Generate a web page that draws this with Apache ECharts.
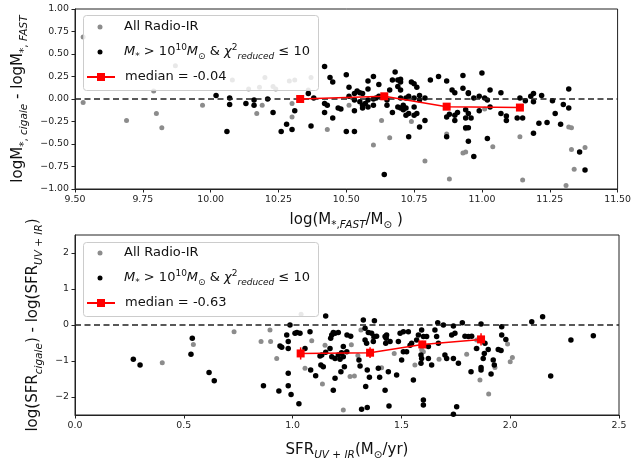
<!DOCTYPE html>
<html>
<head>
<meta charset="utf-8">
<script src="https://cdn.jsdelivr.net/npm/echarts@6.0.0/dist/echarts.min.js"></script>
<style>html,body{margin:0;padding:0;background:#fff}#c{width:634px;height:464px}</style>
</head>
<body>
<div id="c"></div>
<script>
// ---------- data ----------
const topXTicks = [9.5, 9.75, 10, 10.25, 10.5, 10.75, 11, 11.25, 11.5];
const topYTicks = [-1, -0.75, -0.5, -0.25, 0, 0.25, 0.5, 0.75, 1];
const botXTicks = [0, 0.5, 1, 1.5, 2, 2.5];
const botYTicks = [-2, -1, 0, 1, 2];

const topGrey = [[9.53,0.69],[9.53,-0.04],[9.69,-0.24],[9.80,-0.16],[9.82,-0.32],[9.79,0.09],[9.87,0.37],[9.97,-0.07],[10.08,0.21],[10.14,0.11],[10.18,0.13],[10.20,0.24],[10.23,0.14],[10.24,0.11],[10.19,-0.07],[10.17,-0.16],[10.30,-0.05],[10.30,-0.20],[10.29,0.20],[10.31,0.21],[10.37,0.24],[10.36,0.10],[10.43,-0.34],[10.51,-0.07],[10.63,-0.24],[10.66,-0.43],[10.60,-0.51],[10.74,-0.25],[10.79,-0.69],[10.87,-0.39],[10.88,-0.89],[10.94,-0.33],[10.93,-0.60],[10.94,-0.59],[11.04,-0.53],[11.14,-0.42],[11.15,-0.90],[11.32,-0.31],[11.33,-0.32],[11.33,-0.56],[11.38,-0.54],[11.34,-0.78],[11.31,-0.96],[11.01,-0.11]];

const topBlack = [[10.02,0.04],[10.07,0.01],[10.07,-0.06],[10.06,-0.36],[10.13,-0.05],[10.16,-0.01],[10.16,-0.07],[10.21,0.00],[10.23,-0.15],[10.26,-0.36],[10.28,-0.28],[10.30,-0.34],[10.31,-0.13],[10.37,-0.30],[10.36,0.06],[10.38,0.01],[10.42,0.36],[10.44,0.24],[10.45,0.19],[10.42,-0.05],[10.43,-0.07],[10.42,-0.15],[10.45,-0.21],[10.47,-0.10],[10.48,-0.11],[10.50,0.27],[10.50,-0.36],[10.51,0.13],
[10.51,0.03],[10.53,-0.01],[10.54,0.09],[10.55,0.07],[10.53,0.06],[10.56,0.06],[10.56,-0.07],[10.56,-0.10],[10.58,-0.01],[10.58,0.11],[10.58,0.20],[10.60,0.25],[10.60,0.00],[10.62,0.16],[10.53,-0.13],[10.53,-0.36],[10.55,-0.03],[10.57,-0.05],[10.58,-0.09],[10.60,-0.07],[10.61,0.01],[10.62,0.03],[10.64,-0.84],[10.65,-0.07],[10.65,-0.01],[10.66,0.10],[10.67,-0.15],[10.67,0.21],[10.68,0.30],[10.69,0.14],[10.69,0.21],[10.70,0.10],[10.70,0.22],[10.70,0.19],[10.69,-0.09],[10.70,-0.10],[10.71,-0.07],[10.71,-0.12],[10.70,0.01],[10.72,-0.18],[10.73,-0.16],[10.73,0.03],[10.73,-0.42],
[10.74,0.19],[10.75,0.17],[10.76,0.13],[10.72,0.01],[10.75,0.01],[10.77,0.04],[10.77,-0.01],[10.79,0.01],[10.72,-0.10],[10.75,-0.09],[10.76,-0.16],[10.75,-0.18],[10.77,-0.31],[10.79,-0.24],[10.81,0.21],[10.84,0.25],[10.87,0.20],[10.89,0.10],[10.90,0.07],[10.93,0.26],[10.93,0.12],[10.95,0.07],[10.95,0.06],[11.00,0.29],[11.03,0.10],[10.97,0.01],[10.99,0.03],[11.01,0.01],[11.02,-0.01],[11.07,0.07],[11.03,-0.09],[10.87,-0.20],[10.88,-0.17],[10.90,-0.18],[10.91,-0.15],[10.90,-0.24],[10.94,-0.12],[10.94,-0.21],[10.95,-0.16],[10.96,-0.21],[10.94,-0.32],[10.95,-0.32],[10.99,-0.13],[10.87,-0.42],[10.95,-0.47],[10.97,-0.64],[11.02,-0.44],[11.07,-0.16],[11.09,-0.19],[11.09,-0.24],[11.13,-0.21],[11.15,-0.21],[11.14,0.01],[11.16,-0.02],[11.18,0.03],[11.19,0.06],[11.19,-0.03],[11.22,0.04],[11.26,-0.02],[11.30,-0.06],[11.32,-0.10],[11.32,0.11],[11.27,-0.16],[11.24,-0.26],[11.21,-0.27],[11.19,-0.38],[11.29,-0.28],[11.36,-0.59],[11.38,-0.79]];

const topMedX = [10.33, 10.64, 10.87, 11.14];
const topMedY = [0.00, 0.03, -0.085, -0.095];
const topMedErr = [0.045, 0.03, 0.03, 0.03];

const botGrey = [[0.401,-1.05],[0.544,-0.54],[0.731,-0.19],[0.855,-0.46],[0.899,-0.46],[0.896,-0.14],[0.927,-0.93],[1.039,0.30],[1.088,-0.44],[1.057,-1.20],[1.137,-1.64],[1.233,-2.36],[1.149,-0.56],[1.284,-1.42],[1.409,-1.19],[1.467,-0.79],[1.562,-1.11],[1.593,-0.69],[1.601,-0.74],[1.673,-0.95],[1.80,-0.81],[1.843,-0.65],[1.861,-1.53],[1.901,-1.92],[1.93,-1.18],[1.95,-0.69],[1.988,-0.53],[2.00,-1.02],[2.01,-0.90],[1.314,-0.14],[1.351,-0.21],[1.371,-0.37],[1.264,-1.43],[1.846,-0.42],[1.27,-0.55],[1.30,-0.85]];

const botBlack = [[0.268,-0.95],[0.299,-1.11],[0.539,-0.37],[0.533,-0.81],[0.616,-1.32],[0.640,-1.55],
[1.152,0.25],[0.988,0.00],[0.973,-0.28],[0.980,-0.46],[0.942,-0.58],[0.95,-0.62],[0.98,-0.65],
[1.011,-0.23],[1.02,-0.21],[1.034,-0.23],[1.057,-0.65],[1.08,-0.19],
[0.98,-1.34],[0.98,-1.69],[0.993,-1.93],[0.937,-1.83],[0.866,-1.69],[1.029,-2.19],
[1.083,-1.25],[1.106,-1.41],[1.141,-1.16],[1.126,-0.86],[1.152,-0.76],
[1.172,-0.65],[1.175,-0.37],[1.18,-0.28],[1.187,-0.21],[1.195,-0.23],[1.21,-0.21],
[1.18,-0.88],[1.195,-0.93],[1.21,-0.83],[1.225,-0.77],[1.134,-0.83],
[1.195,-1.48],[1.187,-1.81],[1.222,-1.30],[1.238,-1.16],
[1.233,-0.60],[1.25,-0.28],[1.267,-0.31],[1.249,-0.74],[1.233,-0.88],[1.218,-0.95],[1.13,-1.11],
[1.305,-0.97],[1.31,-1.14],[1.343,-1.25],[1.353,-1.45],[1.336,-1.71],[1.317,-2.34],[1.343,-2.29],
[1.325,0.14],[1.376,0.12],
[1.333,-0.09],[1.348,-0.21],[1.363,-0.23],[1.374,-0.32],[1.386,-0.31],[1.333,-0.42],[1.34,-0.51],[1.371,-0.46],
[1.394,-1.20],[1.40,-1.45],[1.425,-0.32],[1.43,-0.37],[1.428,-0.51],
[1.432,-0.28],[1.448,-0.46],[1.486,-0.46],[1.494,-0.23],[1.509,-0.19],[1.532,-0.19],[1.540,-0.56],[1.524,-0.74],[1.509,-0.74],[1.501,-0.97],[1.547,-0.51],[1.570,-0.42],[1.578,-0.28],[1.593,-0.14],[1.601,-0.32],[1.616,-0.32],[1.624,-0.60],[1.590,-0.83],[1.593,-0.93],[1.590,-1.06],[1.624,-0.93],[1.639,-1.11],[1.654,-0.14],[1.662,-0.32],[1.670,-0.51],[1.700,-0.83],[1.708,-0.93],[1.731,-0.28],[1.746,-0.23],[1.739,-0.93],[1.762,-1.06],[1.792,-0.31],[1.808,-0.32],[1.823,-0.31],[1.820,-1.30],[1.866,-1.18],[1.866,-1.25],[1.884,-0.51],[1.881,-0.79],[1.876,-0.93],[1.899,-0.68],[1.922,-0.97],[1.927,-1.11],[1.912,-1.36],[1.846,-0.65],[1.555,-1.53],[1.601,-2.08],[1.601,-2.22],[1.754,-2.27],[1.739,-2.48],[1.44,-1.30],[1.478,-1.39],[1.443,-2.25],[1.425,-1.81],
[1.667,0.06],[1.693,0.00],[1.739,-0.03],[1.78,0.06],[1.866,0.03],[2.099,0.09],
[1.961,-0.05],[1.961,-0.28],[1.98,-0.40],[1.945,-0.68],[1.958,-0.71],
[2.149,0.23],[2.279,-0.42],[2.382,-0.30],[2.186,-1.42]];

const botMedX = [1.037, 1.356, 1.596, 1.866];
const botMedY = [-0.79, -0.77, -0.54, -0.40];
const botMedErr = [0.17, 0.15, 0.10, 0.17];

const nameGrey = 'All Radio-IR';
const nameBlack = 'M* > 10^10 M_sun & chi2_reduced <= 10';
const nameTopMed = 'median = -0.04';
const nameBotMed = 'median = -0.63';

// ---------- styling ----------
const FF = 'DejaVu Sans';
const GREY = '#8c8c8c';
const RED = '#ff0000';
const AX = '#222';

const nameRich = {
  n: {fontSize: 15, fontFamily: FF, lineHeight: 22, color: '#111'},
  sub: {fontSize: 10.5, fontFamily: FF, lineHeight: 11, verticalAlign: 'bottom', color: '#111'},
  subi: {fontSize: 10.5, fontFamily: FF, fontStyle: 'italic', lineHeight: 11, verticalAlign: 'bottom', color: '#111'}
};
const legRich = {
  n: {fontSize: 13, fontFamily: FF, lineHeight: 18, color: '#111'},
  i: {fontSize: 13, fontFamily: FF, fontStyle: 'italic', lineHeight: 18, color: '#111'},
  sub: {fontSize: 9, fontFamily: FF, lineHeight: 9, verticalAlign: 'bottom', color: '#111'},
  subi: {fontSize: 9, fontFamily: FF, fontStyle: 'italic', lineHeight: 9, verticalAlign: 'bottom', color: '#111'},
  sup: {fontSize: 9, fontFamily: FF, lineHeight: 9, verticalAlign: 'top', color: '#111'}
};
function legFmt(name) {
  if (name === nameBlack) {
    return '{i|M}{sub|*}{n| > 10}{sup|10}{i|M}{sub|\u2299}{n| & }{i|\u03c7}{sup|2}{subi|reduced}{n| \u2264 10}';
  }
  return '{n|' + name + '}';
}
const minus = s => s.replace('-', '\u2212');

function axisCfg(gi, min, max, ticks, dec, name, gap) {
  return {
    type: 'value', gridIndex: gi, min: min, max: max,
    name: name, nameLocation: 'middle', nameGap: gap,
    nameTextStyle: {rich: nameRich},
    axisLine: {show: true, onZero: false, lineStyle: {color: AX, width: 1}},
    axisTick: {show: true, length: 3.5, lineStyle: {color: AX}, customValues: ticks},
    axisLabel: {customValues: ticks, margin: 6, color: '#222', fontFamily: FF, fontSize: 9.4,
      formatter: v => minus(Number(v).toFixed(dec))},
    splitLine: {show: false}
  };
}
function errRender(params, api) {
  const p1 = api.coord([api.value(0), api.value(1)]);
  const p2 = api.coord([api.value(0), api.value(2)]);
  return {type: 'line', shape: {x1: p1[0], y1: p1[1], x2: p2[0], y2: p2[1]},
    style: {stroke: RED, lineWidth: 1.5}};
}
const zeroLine = {
  silent: true, symbol: 'none', label: {show: false},
  lineStyle: {type: [6, 3.5], color: AX, width: 1.5},
  data: [{yAxis: 0}]
};
function legendPair(top1, top2, medName) {
  return [
    {data: [nameGrey, nameBlack], orient: 'vertical', left: 97.5, top: top1, padding: 0,
     itemWidth: 5, itemHeight: 5, itemGap: 7, icon: 'circle', selectedMode: false,
     formatter: legFmt, textStyle: {rich: legRich, lineHeight: 18, fontSize: 13, fontFamily: FF, padding: [0, 0, 0, 16.5]}},
    {data: [medName], orient: 'vertical', left: 86, top: top2, padding: 0,
     itemWidth: 28, itemHeight: 10, selectedMode: false,
     formatter: legFmt, textStyle: {rich: legRich, lineHeight: 18, fontSize: 13, fontFamily: FF, padding: [0, 0, 0, 5]}}
  ];
}

const option = {
  animation: false,
  backgroundColor: '#fff',
  grid: [
    {left: 75, top: 9, width: 544, height: 180, show: true, borderColor: AX, borderWidth: 1},
    {left: 75, top: 235, width: 544, height: 180, show: true, borderColor: AX, borderWidth: 1}
  ],
  xAxis: [
    axisCfg(0, 9.5, 11.5, topXTicks, 2,
      '{n|log(M}{sub|*,}{subi|FAST}{n|/M}{sub|\u2299}{n| )}', 20),
    axisCfg(1, 0, 2.5, botXTicks, 1,
      '{n|SFR}{subi|UV + IR}{n|(M}{sub|\u2299}{n|/yr)}', 24)
  ],
  yAxis: [
    axisCfg(0, -1, 1, topYTicks, 2,
      '{n|logM}{sub|*, }{subi|cigale}{n| - logM}{sub|*, }{subi|FAST}', 44),
    axisCfg(1, -2.5, 2.5, botYTicks, 0,
      '{n|log(SFR}{subi|cigale}{n|) - log(SFR}{subi|UV + IR}{n|)}', 30)
  ],
  legend: legendPair(18, 68, nameTopMed).concat(legendPair(244, 294, nameBotMed)),
  graphic: [
    {type: 'rect', left: 83, top: 15, z: 3, shape: {width: 235, height: 75, r: 3},
     style: {fill: 'rgba(255,255,255,0.8)', stroke: '#cccccc', lineWidth: 1}},
    {type: 'rect', left: 83, top: 242, z: 3, shape: {width: 235, height: 74, r: 3},
     style: {fill: 'rgba(255,255,255,0.8)', stroke: '#cccccc', lineWidth: 1}}
  ],
  series: [
    {type: 'scatter', name: nameGrey, xAxisIndex: 0, yAxisIndex: 0, data: topGrey,
     symbolSize: 5, itemStyle: {color: GREY, opacity: 1}, markLine: zeroLine, z: 2},
    {type: 'scatter', name: nameBlack, xAxisIndex: 0, yAxisIndex: 0, data: topBlack,
     symbolSize: 5.5, itemStyle: {color: '#000', opacity: 1}, z: 2},
    {type: 'custom', name: nameTopMed + ' err', xAxisIndex: 0, yAxisIndex: 0,
     data: topMedX.map((x, i) => [x, topMedY[i] - topMedErr[i], topMedY[i] + topMedErr[i]]),
     renderItem: errRender, encode: {x: 0, y: [1, 2]}, z: 5},
    {type: 'line', name: nameTopMed, xAxisIndex: 0, yAxisIndex: 0,
     data: topMedX.map((x, i) => [x, topMedY[i]]),
     symbol: 'rect', symbolSize: 8, itemStyle: {color: RED}, lineStyle: {color: RED, width: 1.5}, z: 5},

    {type: 'scatter', name: nameGrey, xAxisIndex: 1, yAxisIndex: 1, data: botGrey,
     symbolSize: 5, itemStyle: {color: GREY, opacity: 1}, markLine: zeroLine, z: 2},
    {type: 'scatter', name: nameBlack, xAxisIndex: 1, yAxisIndex: 1, data: botBlack,
     symbolSize: 5.5, itemStyle: {color: '#000', opacity: 1}, z: 2},
    {type: 'custom', name: nameBotMed + ' err', xAxisIndex: 1, yAxisIndex: 1,
     data: botMedX.map((x, i) => [x, botMedY[i] - botMedErr[i], botMedY[i] + botMedErr[i]]),
     renderItem: errRender, encode: {x: 0, y: [1, 2]}, z: 5},
    {type: 'line', name: nameBotMed, xAxisIndex: 1, yAxisIndex: 1,
     data: botMedX.map((x, i) => [x, botMedY[i]]),
     symbol: 'rect', symbolSize: 8, itemStyle: {color: RED}, lineStyle: {color: RED, width: 1.5}, z: 5}
  ]
};
const chart = echarts.init(document.getElementById('c'), null, {renderer: 'canvas'});
chart.setOption(option);
</script>
</body>
</html>
